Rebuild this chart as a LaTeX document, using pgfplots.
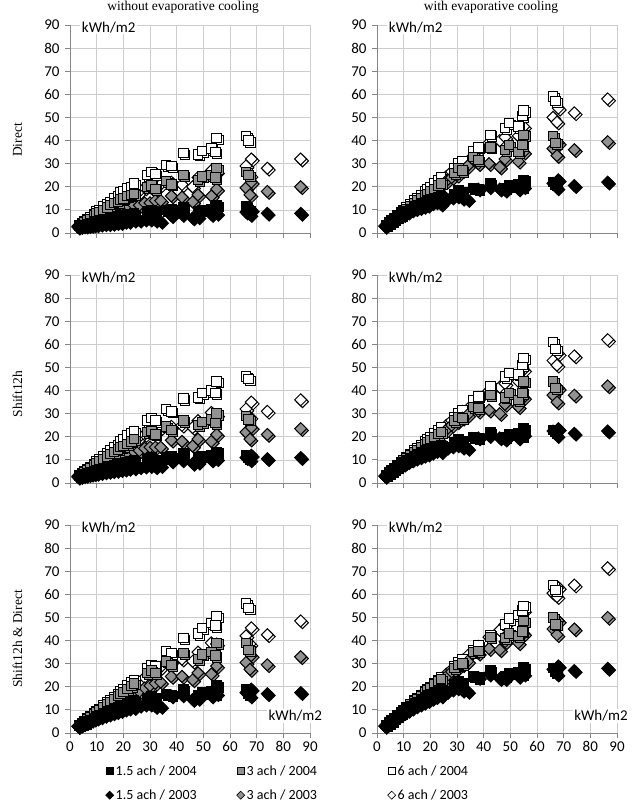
\documentclass[border=0pt]{standalone}
\usepackage{fontspec}
\setmainfont{Carlito}
\newfontfamily\serifff{Liberation Serif}
\usepackage{pgfplots}
\usepackage{pgfplotstable}
\pgfplotsset{compat=1.18}
\definecolor{mgray}{RGB}{145,145,145}
\definecolor{gridc}{RGB}{205,205,205}
\definecolor{axc}{RGB}{134,134,134}

\pgfdeclareplotmark{ediamond*}{%
  \pgfpathmoveto{\pgfqpoint{0pt}{\pgfplotmarksize}}%
  \pgfpathlineto{\pgfqpoint{\pgfplotmarksize}{0pt}}%
  \pgfpathlineto{\pgfqpoint{0pt}{-\pgfplotmarksize}}%
  \pgfpathlineto{\pgfqpoint{-\pgfplotmarksize}{0pt}}%
  \pgfpathclose\pgfusepathqfillstroke}

% 2004 series (squares)
\pgfplotstableread{
x TLa TLb TLc TRa TRb TRc MLa MLb MLc MRa MRb MRc BLa BLb BLc BRa BRb BRc
3.5 3 3.3 3.5 3.5 3.5 3.5 3 3.3 3.5 3.5 3.5 3.5 3.3 3.4 3.5 3.5 3.5 3.5
4.5 3.3 4 4.2 4.5 4.5 4.5 3.4 4 4.3 4.5 4.5 4.5 3.9 4.2 4.4 4.5 4.5 4.5
5.5 3.5 4.8 5 5.3 5.5 5.5 3.8 4.8 5.2 5.3 5.5 5.5 4.5 5.1 5.3 5.4 5.5 5.5
6.5 4 5.5 6 6 6.3 6.5 4.2 5.5 6 6.1 6.4 6.5 5 6 6.2 6.3 6.5 6.5
7.5 4.2 6 6.8 7 7.2 7.5 4.6 6.3 7 7 7.3 7.5 5.6 6.8 7.2 7.2 7.4 7.5
9 5 7.5 8 8 8.5 9 5.2 7.5 8.3 8.2 8.7 9 6.5 8.2 8.6 8.6 8.9 9
10 5 8.5 9.5 9 9.5 10 5.5 8.5 9.5 9 9.7 10 7.2 9.1 9.6 9.5 9.9 10
11 5.5 9 10 9.5 10.5 11 6 9.3 10.3 9.7 10.7 11 7.8 10 10.5 10.3 10.8 11
12.5 6 10 11.5 10.5 11.5 12.5 6.5 10.5 11.5 10.7 12 12.5 8.6 11.3 12 11.5 12.3 12.5
14 6 11 12.5 11.5 13 14 7 11.5 13 11.7 13.3 14 9.3 12.5 13.3 12.7 13.7 14
15 6.5 12 13.5 12 14 15 7.2 12.5 14 12.3 14.3 15 9.8 13.4 14.3 13.4 14.7 15
16.5 7 13 15 13 15 16.5 7.7 13.5 15.5 13.2 15.5 16.5 10.5 14.7 15.7 14.5 16.1 16.5
18 7 13.5 16 13.5 16.5 18 8 14.5 16.5 14 17 18 11.2 16 17 15.5 17.5 18
19 7.5 14.5 17.5 14 17 19 8.3 15.5 18 14.5 17.8 19 11.7 17 18 16.2 18.5 19
20 7.5 15 18 14.5 18 20 8.5 16 19 15 18.7 20 12.2 17.8 19 16.8 19.5 20
21.5 8 16 19.5 15 19 21.5 9 17 20.5 15.5 20 21.5 12.8 19 20.5 17.7 21 21.5
23 8 16.5 20 15.5 20.5 23 9.3 18 21.5 16 21.3 23 13.5 20.3 22 18.5 22.3 23
24 8.5 17 21.5 16 21.5 24 9.7 19 22.5 16.5 22 24 14 21.5 23 19 23.3 24
29 9.5 20 25 17 26 28 10.5 22 27 17.5 27 28.5 15 26 28 21 28 29
30.5 10 20.5 26.5 18.5 28 30 11 22.5 28 19 28.5 30 16 27 29.5 22.5 29.5 30.5
32 9 19 25.5 17.5 27 31 10 21 27 18 28 31.5 15 26 29 21.5 30 32
36 10 22.5 29.5 19.5 33 35.5 11 24.5 32 20 33 36 17 31 35.5 24.5 35 36
38 10.5 21 29 19 31.5 37 11.5 23 31 19.5 32.5 37.5 16.5 29.5 34.5 24 35.5 38
42.5 11 25 34.5 21.5 37 42.5 13 27 36.5 22 38 42 19 34.5 41 27 41.5 42.5
48 9.5 23 34 19.5 36 45.5 11 25 37 20 37 46 16.5 32 43 24.5 41 47
49.5 10 24.5 35.5 20.5 38 47.5 11.5 26.5 39 21 39 47.5 17.5 34 45.5 26 43 49.5
53 10.5 25 36.5 21 35 46 12 27.5 40 21.5 36 47 18 35 47.5 26.5 42 51
54.5 11 24 35 20 38 50.5 11.5 26 39 20.5 39 51 17 33.5 46.5 25.5 44 53
55 12 28 41 23 42.5 53 13.5 30 44 23.5 44 54 20.5 39 50.5 28.5 48.5 55
66 11.5 26.5 42 22 42 59 12 29 46 23 44 61 19 39 56 28 50 64
67 10 25 40 21 39 57 11 27.5 45 22 41 58 17 36 54 26.5 47 62
}\tabA

% 2003 series (diamonds)
\pgfplotstableread{
x TLa TLb TLc TRa TRb TRc MLa MLb MLc MRa MRb MRc BLa BLb BLc BRa BRb BRc
3 2.5 2.8 3 3 3 3 2.5 2.8 3 3 3 3 2.8 2.9 3 3 3 3
4 2.8 3.2 3.5 4 4 4 2.8 3.3 3.7 4 4 4 3.4 3.6 3.9 4 4 4
5 3 4 4.5 4.8 5 5 3.1 4 4.6 4.8 5 5 4 4.4 4.8 4.9 5 5
6 3 4.5 5 5.5 5.8 6 3.3 4.6 5.3 5.6 5.8 6 4.5 5.1 5.6 5.8 5.9 6
7 3.2 5 6 6.3 6.7 7 3.6 5.2 6.2 6.4 6.8 7 5 5.8 6.5 6.6 6.9 7
8 3.3 5.5 6.5 7 7.5 8 3.8 5.8 7 7 7.7 8 5.5 6.5 7.4 7.4 7.8 8
9 3.5 6 7 7.5 8.3 8.8 4 6.3 7.8 7.6 8.5 8.9 6 7.2 8.2 8.1 8.7 9
10 3.5 6.5 8 8 9 9.7 4.2 7 8.5 8.2 9.3 9.8 6.4 7.9 9 8.8 9.6 10
11.5 3.8 7.5 9 9 10.5 11 4.5 7.8 9.5 9.2 10.7 11.2 7 8.9 10.2 9.8 11 11.4
13 4 8 10 10 12 12.5 4.8 8.5 10.5 10 12.2 12.7 7.6 9.9 11.5 10.8 12.4 12.9
14.5 4 8.5 11 10.5 13 14 5 9.2 11.5 10.7 13.4 14.2 8.2 10.8 12.7 11.7 13.8 14.4
16 4.2 9.5 12 11 14.5 15.5 5.3 10 12.5 11.3 14.8 15.6 8.7 11.8 14 12.5 15.2 15.8
17.5 4.5 10 13 11.5 16 17 5.5 10.8 13.5 12 16.2 17 9.2 12.7 15.3 13.3 16.6 17.3
19 4.5 10.5 14 12 17 18 5.8 11.5 15 12.5 17.5 18.5 9.7 13.6 16.5 14 18 18.8
20.5 5 11 15 13 18 19.5 6 12 16 13.3 18.6 20 10.3 14.5 17.5 15 19.3 20.2
22 5 11.5 15.5 13.5 19.5 21 6.3 12.5 17 14 20 21.5 10.8 15.3 18.5 15.7 20.7 21.7
24 5.5 12 17 12.5 21 23 6.5 13.5 18.5 13.5 21.5 23.5 11 16.5 20 16 22.5 23.6
26 5.5 12 18 15 22.5 24.5 7 14 20 15.5 23 25 12 18 22 18 24.5 25.5
28 6 13 19.5 15.5 24 26.5 7.3 15 21 16 25 27 12.5 19.5 24 19 26.5 27.5
30 6 13 20 16 25 28 7.5 15.5 22 16.5 26.5 29 12.5 20.5 25.5 19.5 28 29.5
32 5.5 14 21 15 27 30 7 15.5 23 15.5 28 31 11.5 21.5 27 18.5 29.5 31.5
34 5 14 21 14.5 29 31 7.5 15.5 24 15 29.5 32 11.5 22 28.5 18 31 33.5
38 7.5 16 22 19 30 36 9.5 18.5 24.5 19.5 31 37 16 24.5 31 24 34.5 37.5
42 8 15.5 21 20 30 39 10 18 25 20.5 31.5 40 16.5 24.5 32 25.5 36.5 41.5
46 6.5 13.5 20 19 28.5 40 8.5 16 24 19.5 30 41.5 14.5 23 31 23.5 36 44.5
48 7 16.5 24 18.5 32 41.5 9 19 27 19 34 43 15 26 35 23.5 39.5 47
53 8 16 27 19 31 42 10 18 30.5 19.5 33 44 16 25.5 39 24.5 39 51
55 8.5 19 26.5 20 35 46 10.5 21 29.5 21 37 49 17 29 38.5 25.5 43 53
66 9 19.5 29 21.5 36.5 50 11 22 32 22.5 38 53 17.5 30.5 42 27.5 45 60.5
67.5 8 16.5 25 19.5 33.5 48 10 19 28.5 20.5 35 51 16 27.5 38.5 25.5 42.5 59
68 10 22 32 23 39 54 12 24 35 23.5 41 56 19 33.5 45.5 29 48.5 63
74 8.5 18 28 20.5 36 52 10.5 21 31 21.5 38 55 17 29.5 42.5 27 45 64
86.5 8.5 20 32 22 39.5 58 11 23.5 36 22.5 42 62 17.5 33 48.5 28 50 71.5
}\tabB

\pgfplotsset{
  /pgf/number format/assume math mode=true,
  panel/.style={
    scale only axis, width=240pt, height=208pt,
    xmin=0, xmax=90, ymin=0, ymax=90,
    xtick={0,10,...,90}, ytick={0,10,...,90},
    grid=major, grid style={gridc, line width=0.7pt},
    axis x line=bottom, axis y line=left,
    axis line style={-, axc, line width=0.8pt},
    tick align=outside, major tick length=5pt,
    tick style={axc, line width=0.8pt},
    ticklabel style={font=\fontsize{15}{15}\selectfont},
    yticklabel style={xshift=-2pt},
    clip=false,
  },
  msq/.style={only marks, mark=square*, mark size=4.7pt, mark options={draw=black, fill=#1, line width=1pt}},
  mdia/.style={only marks, mark=ediamond*, mark size=6pt, mark options={draw=black, fill=#1, line width=1pt}},
  shadowed/.style={every mark/.append style={xshift=1.8pt, yshift=-1.8pt}},
  lsq/.style={only marks, mark=square*, mark size=3.2pt, mark options={draw=black, fill=#1, line width=0.6pt},
    legend image code/.code={\draw[##1] plot coordinates {(0pt,0pt)};}},
  ldia/.style={only marks, mark=ediamond*, mark size=4pt, mark options={draw=black, fill=#1, line width=0.6pt},
    legend image code/.code={\draw[##1] plot coordinates {(0pt,0pt)};}},
}

\newcommand\ser[3]{%
  \addplot[#3, shadowed, forget plot] table[x=x, y=#2] {#1};
  \addplot[#3, forget plot] table[x=x, y=#2] {#1};
}
\newcommand\pan[1]{%
  \ser{\tabB}{#1c}{mdia=white}
  \ser{\tabA}{#1c}{msq=white}
  \ser{\tabB}{#1b}{mdia=mgray}
  \ser{\tabA}{#1b}{msq=mgray}
  \ser{\tabB}{#1a}{mdia=black}
  \ser{\tabA}{#1a}{msq=black}
}
\newcommand\unit{\node[fill=white, inner sep=1.5pt, font=\fontsize{15}{15}\selectfont] at (axis cs:14.5,89) {kWh/m2};}

\begin{document}
\begin{tikzpicture}[x=1pt, y=1pt]
\path[use as bounding box] (0,0) rectangle (635,803);

% titles and row labels
\node[anchor=north, font=\serifff\fontsize{13.5}{15}\selectfont, inner sep=1pt] at (183,803) {without evaporative cooling};
\node[anchor=north, font=\serifff\fontsize{13.5}{15}\selectfont, inner sep=1pt] at (491,803) {with evaporative cooling};
\node[rotate=90, font=\serifff\fontsize{13.5}{15}\selectfont] at (17.5,663) {Direct};
\node[rotate=90, font=\serifff\fontsize{13.5}{15}\selectfont] at (17.5,409) {Shift12h};
\node[rotate=90, font=\serifff\fontsize{13.5}{15}\selectfont] at (17.5,164) {Shift12h \& Direct};

% top row
\begin{axis}[panel, at={(70pt,570pt)}, anchor=south west, xticklabels={}]
\pan{TL}
\unit
\end{axis}
\begin{axis}[panel, at={(377pt,570pt)}, anchor=south west, xticklabels={}]
\pan{TR}
\unit
\end{axis}

% middle row
\begin{axis}[panel, at={(70pt,320pt)}, anchor=south west, xticklabels={}]
\pan{ML}
\unit
\end{axis}
\begin{axis}[panel, at={(377pt,320pt)}, anchor=south west, xticklabels={}]
\pan{MR}
\unit
\end{axis}

% bottom row
\begin{axis}[panel, at={(70pt,70pt)}, anchor=south west,
  legend columns=3,
  legend cell align=left,
  legend style={at={(axis description cs:0.148,-0.145)}, anchor=north west,
    draw=none, fill=none, inner sep=0pt, row sep=9pt,
    font=\fontsize{14}{15}\selectfont},
]
\addlegendimage{lsq=black}
\addlegendentry{\makebox[119pt][l]{1.5 ach / 2004}}
\addlegendimage{lsq=mgray}
\addlegendentry{\makebox[139pt][l]{3 ach / 2004}}
\addlegendimage{lsq=white}
\addlegendentry{6 ach / 2004}
\addlegendimage{ldia=black}
\addlegendentry{\makebox[119pt][l]{1.5 ach / 2003}}
\addlegendimage{ldia=mgray}
\addlegendentry{\makebox[139pt][l]{3 ach / 2003}}
\addlegendimage{ldia=white}
\addlegendentry{6 ach / 2003}
\pan{BL}
\unit
\node[fill=white, inner sep=1.5pt, font=\fontsize{15}{15}\selectfont] at (axis cs:84.5,7.5) {kWh/m2};
\end{axis}
\begin{axis}[panel, at={(377pt,70pt)}, anchor=south west]
\pan{BR}
\unit
\node[fill=white, inner sep=1.5pt, font=\fontsize{15}{15}\selectfont] at (axis cs:84,7.5) {kWh/m2};
\end{axis}
\end{tikzpicture}
\end{document}
